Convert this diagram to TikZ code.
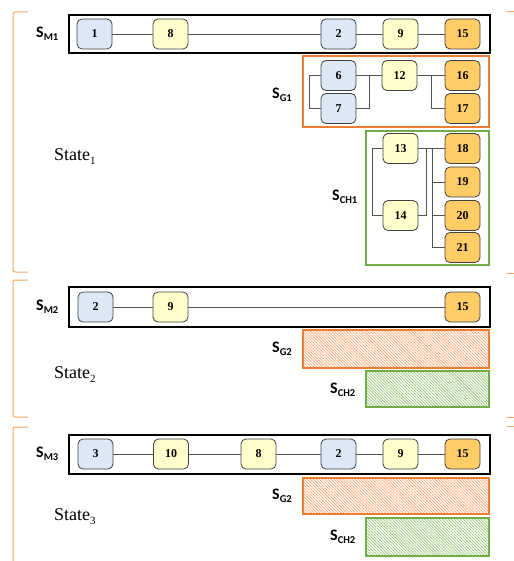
\documentclass[tikz,border=0pt]{standalone}
\usepackage{fontspec}
\setmainfont{Liberation Serif}
\newfontfamily\serfont{Liberation Serif}
\newfontfamily\labfont{Carlito}
\usetikzlibrary{patterns.meta}
\definecolor{nblue}{HTML}{DCE8F5}
\definecolor{nyellow}{HTML}{FFFFCC}
\definecolor{norange}{HTML}{FFCC66}
\definecolor{borange}{HTML}{ED7D31}
\definecolor{bgreen}{HTML}{70AD47}
\definecolor{brk}{HTML}{F4A460}
\definecolor{hatcho}{HTML}{F6A878}
\definecolor{hatchg}{HTML}{9CC77E}
\definecolor{edge}{HTML}{404040}
\tikzset{
  nd/.style={draw=edge, line width=0.8pt, rounded corners=5pt, minimum width=35pt, minimum height=30pt, inner sep=0pt, font=\serfont\bfseries\fontsize{12}{12}\selectfont},
  bl/.style={nd, fill=nblue},
  yl/.style={nd, fill=nyellow},
  og/.style={nd, fill=norange},
  conn/.style={draw=edge!90, line width=0.8pt},
  mbox/.style={draw=black, line width=2.6pt},
  gbox/.style={draw=borange, line width=2.4pt},
  cbox/.style={draw=bgreen, line width=2.4pt},
  ghatch/.style={gbox, pattern={Lines[angle=-45,distance=2.1pt,line width=0.75pt]}, pattern color=hatcho},
  chatch/.style={cbox, pattern={Lines[angle=-45,distance=2.1pt,line width=0.75pt]}, pattern color=hatchg},
  brack/.style={draw=brk, line width=1pt, rounded corners=2pt},
  slab/.style={anchor=west, inner sep=0pt, font=\labfont\bfseries\fontsize{16}{16}\selectfont},
  stlab/.style={anchor=west, inner sep=0pt, font=\serfont\fontsize{18}{18}\selectfont}
}
\newcommand{\sub}[1]{{\fontsize{10.5}{10}\selectfont\raisebox{-3pt}{#1}}}
\newcommand{\ssub}[1]{{\fontsize{11}{10}\selectfont\raisebox{-4pt}{#1}}}
\begin{document}
\begin{tikzpicture}[x=1pt,y=-1pt]
\useasboundingbox (0,0) rectangle (513,561);
% brackets
\draw[brack] (28,12) -- (13,12) -- (13,272) -- (28,272);
\draw[brack] (28,280) -- (13,280) -- (13,417) -- (28,417);
\draw[brack] (28,427) -- (13,427) -- (13,565);
\draw[brack] (507,12) -- (515,12);
\draw[brack] (507,273) -- (515,273);
\draw[brack] (507,417) -- (515,417);
\draw[brack] (507,426) -- (515,426);
% State labels
\node[stlab] (st1) at (54,157) {State\ssub{1}};
\node[stlab] (st2) at (54,375) {State\ssub{2}};
\node[stlab] (st3) at (54,517) {State\ssub{3}};

% ---------- State 1 ----------
\draw[mbox] (69,15) rectangle (490,53);
\node[slab] (lm1) at (36,34) {S\sub{M1}};
\node[bl] (a1) at (94.5,34) {1};
\node[yl] (a8) at (170.5,34) {8};
\node[bl] (a2) at (338.5,34) {2};
\node[yl] (a9) at (400.5,34) {9};
\node[og] (a15) at (462.5,34) {15};
\draw[conn] (a1) -- (a8) -- (a2) -- (a9) -- (a15);

\draw[gbox] (303,56) rectangle (489,127);
\node[slab] (lg1) at (272,95) {S\sub{G1}};
\node[bl] (g6) at (338.5,75.5) {6};
\node[bl] (g7) at (338.5,108.5) {7};
\node[yl] (g12) at (399.5,75.5) {12};
\node[og] (g16) at (462.5,75.5) {16};
\node[og] (g17) at (462.5,108.5) {17};
\coordinate (jg1) at (309,75.5);
\coordinate (jg2) at (369,75.5);
\coordinate (jg3) at (431,75.5);
\draw[conn] (g6.west) -- (jg1) |- (g7.west);
\draw[conn] (g6.east) -- (g12.west);
\draw[conn] (g7.east) -| (jg2);
\draw[conn] (g12.east) -- (g16.west);
\draw[conn] (jg3) |- (g17.west);

\draw[cbox] (366,131) rectangle (489,265);
\node[slab] (lc1) at (332,197) {S\sub{CH1}};
\node[yl] (c13) at (400.5,148.5) {13};
\node[yl] (c14) at (400.5,215.5) {14};
\node[og] (c18) at (462.5,148.5) {18};
\node[og] (c19) at (462.5,182) {19};
\node[og] (c20) at (462.5,215.5) {20};
\node[og] (c21) at (462.5,247.5) {21};
\coordinate (jc1) at (372,148.5);
\coordinate (jc2) at (426,148.5);
\coordinate (jc3) at (432,148.5);
\draw[conn] (c13.west) -- (jc1) |- (c14.west);
\draw[conn] (c13.east) -- (c18.west);
\draw[conn] (c14.east) -| (jc2);
\draw[conn] (jc3) |- (c21.west);
\draw[conn] (jc3 |- c19) -- (c19.west);
\draw[conn] (jc3 |- c20) -- (c20.west);

% ---------- State 2 ----------
\draw[mbox] (69,287) rectangle (490,327);
\node[slab] (lm2) at (36,307) {S\sub{M2}};
\node[bl] (b2) at (95.5,307) {2};
\node[yl] (b9) at (170.5,307) {9};
\node[og] (b15) at (462.5,307) {15};
\draw[conn] (b2) -- (b9) -- (b15);
\draw[ghatch] (303,330) rectangle (489,368);
\node[slab] (lg2) at (272,349) {S\sub{G2}};
\draw[chatch] (366,371) rectangle (489,407);
\node[slab] (lc2) at (330,390) {S\sub{CH2}};

% ---------- State 3 ----------
\draw[mbox] (69,435) rectangle (490,474);
\node[slab] (lm3) at (36,454) {S\sub{M3}};
\node[bl] (d3) at (95.5,454) {3};
\node[yl] (d10) at (171,454) {10};
\node[yl] (d8) at (258.5,454) {8};
\node[bl] (d2) at (338.5,454) {2};
\node[yl] (d9) at (400.5,454) {9};
\node[og] (d15) at (462.5,454) {15};
\draw[conn] (d3) -- (d10) -- (d8) -- (d2) -- (d9) -- (d15);
\draw[ghatch] (303,478) rectangle (489,514);
\node[slab] (lg3) at (272,496) {S\sub{G2}};
\draw[chatch] (366,518) rectangle (489,556);
\node[slab] (lc3) at (330,537) {S\sub{CH2}};
\end{tikzpicture}
\end{document}
